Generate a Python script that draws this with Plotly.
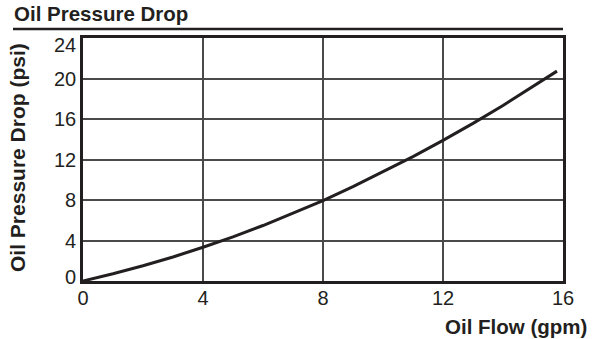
import plotly.graph_objects as go

# Oil pressure drop across the cooler vs. oil flow
flow_gpm = [0, 1, 2, 3, 4, 5, 6, 7, 8, 9, 10, 11, 12, 13, 14, 15, 15.8]
drop_psi = [0, 0.71, 1.50, 2.37, 3.33, 4.36, 5.48, 6.68, 7.95, 9.32,
            10.76, 12.28, 13.89, 15.57, 17.34, 19.19, 20.73]

x_ticks = [0, 4, 8, 12, 16]
y_ticks = [0, 4, 8, 12, 16, 20, 24]

chart_title = "Oil Pressure Drop"
x_title = "Oil Flow (gpm)"
y_title = "Oil Pressure Drop (psi)"

W, H = 600, 339
L, R, T, B = 83, 37, 38, 58
INK = "#231f20"
FONT = "Liberation Sans, Arial, Helvetica, sans-serif"

pw, ph = W - L - R, H - T - B


def px_x(px):
    return (px - L) / pw


def px_y(py):
    return (H - B - py) / ph


fig = go.Figure(
    go.Scatter(x=flow_gpm, y=drop_psi, mode="lines",
               line=dict(color=INK, width=3), hoverinfo="skip")
)

axis_common = dict(
    showline=True, linewidth=3, linecolor=INK, mirror=True,
    showgrid=True, gridcolor="#4a4a4a", gridwidth=1.5,
    zeroline=False, ticks="",
    tickfont=dict(family=FONT, size=20, color=INK),
    fixedrange=True,
)

fig.update_xaxes(range=[0, 16], tickvals=x_ticks, ticktext=[str(v) for v in x_ticks],
                 ticklabelstandoff=-3, **axis_common)
fig.update_yaxes(range=[0, 24], tickvals=y_ticks, showticklabels=False, **axis_common)

# y tick labels: the end labels are tucked inside the frame height
for v in y_ticks:
    shift = 0
    if v == y_ticks[0]:
        shift = 4
    elif v == y_ticks[-1]:
        shift = -7
    fig.add_annotation(text=str(v), xref="paper", yref="y", x=px_x(78), y=v,
                       xanchor="right", yanchor="middle", yshift=shift,
                       showarrow=False, font=dict(family=FONT, size=20, color=INK))

fig.add_annotation(text=f"<b>{chart_title}</b>", xref="paper", yref="paper",
                   x=px_x(12), y=px_y(27), xanchor="left", yanchor="bottom",
                   showarrow=False, font=dict(family=FONT, size=20.5, color=INK))
fig.add_annotation(text=f"<b>{x_title}</b>", xref="paper", yref="paper",
                   x=px_x(589), y=px_y(326), xanchor="right", yanchor="middle",
                   showarrow=False, font=dict(family=FONT, size=20.5, color=INK))
fig.add_annotation(text=f"<b>{y_title}</b>", xref="paper", yref="paper",
                   x=px_x(17), y=px_y(158), xanchor="center", yanchor="middle",
                   textangle=-90, showarrow=False,
                   font=dict(family=FONT, size=21, color=INK))

# rule under the chart title
fig.add_shape(type="line", xref="paper", yref="paper",
              x0=px_x(13), x1=px_x(563), y0=px_y(29), y1=px_y(29),
              line=dict(color=INK, width=2.5))

fig.update_layout(
    width=W, height=H,
    margin=dict(l=L, r=R, t=T, b=B),
    paper_bgcolor="white", plot_bgcolor="white",
    showlegend=False,
)

fig.write_html("out.html", config={"displayModeBar": False})
